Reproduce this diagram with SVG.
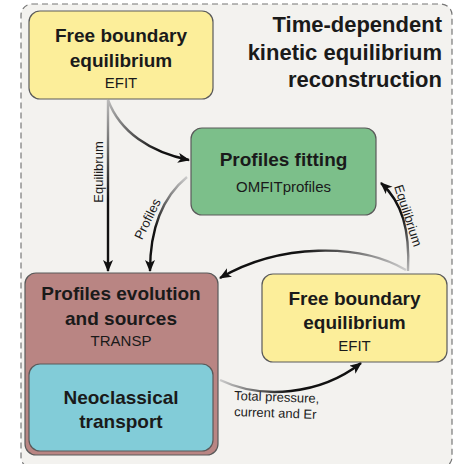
<svg xmlns="http://www.w3.org/2000/svg" width="458" height="464" viewBox="0 0 458 464">
<style>
.box{stroke:#5a5a5a;stroke-width:1.2}
.yellow{fill:#fcee9a}
.green{fill:#7cbf8a}
.brown{fill:#b98583}
.cyan{fill:#82ccd8}
.t{font-family:"Liberation Sans",Arial,sans-serif;font-weight:bold;font-size:19px;fill:#1a1a1a;text-anchor:middle}
.s{font-family:"Liberation Sans",Arial,sans-serif;font-size:15px;fill:#1a1a1a;text-anchor:middle}
.title{font-family:"Liberation Sans",Arial,sans-serif;font-weight:bold;font-size:22px;fill:#1a1a1a;text-anchor:end}
.lbl{font-family:"Liberation Sans",Arial,sans-serif;font-size:13px;fill:#1a1a1a}
.c{fill:none;stroke-width:2.4;marker-end:url(#ah)}
</style>
<defs>
<marker id="ah" markerUnits="userSpaceOnUse" markerWidth="14" markerHeight="12" refX="11" refY="5" orient="auto" viewBox="0 0 14 12">
<path d="M0,0 L12,5 L0,10 L3,5 Z" fill="#111"/>
</marker>
<linearGradient id="g1" gradientUnits="userSpaceOnUse" x1="108" y1="100" x2="108" y2="200"><stop offset="0" stop-color="#bbb"/><stop offset="1" stop-color="#111"/></linearGradient>
<linearGradient id="g2" gradientUnits="userSpaceOnUse" x1="108" y1="100" x2="160" y2="150"><stop offset="0" stop-color="#bbb"/><stop offset="1" stop-color="#111"/></linearGradient>
<linearGradient id="g3" gradientUnits="userSpaceOnUse" x1="187" y1="177" x2="155" y2="230"><stop offset="0" stop-color="#ccc"/><stop offset="1" stop-color="#111"/></linearGradient>
<linearGradient id="g4" gradientUnits="userSpaceOnUse" x1="408" y1="272" x2="400" y2="215"><stop offset="0" stop-color="#bbb"/><stop offset="1" stop-color="#111"/></linearGradient>
<linearGradient id="g5" gradientUnits="userSpaceOnUse" x1="405" y1="270" x2="300" y2="250"><stop offset="0" stop-color="#ccc"/><stop offset="1" stop-color="#111"/></linearGradient>
<linearGradient id="g6" gradientUnits="userSpaceOnUse" x1="220" y1="380" x2="290" y2="392"><stop offset="0" stop-color="#ccc"/><stop offset="1" stop-color="#111"/></linearGradient>
</defs>
<rect x="21" y="4" width="431" height="464" rx="11" fill="#f3f2ef" stroke="#777" stroke-width="1.2" stroke-dasharray="6 4"/>
<g id="title">
<text class="title" x="442" y="32">Time-dependent</text>
<text class="title" x="442" y="60">kinetic equilibrium</text>
<text class="title" x="442" y="87">reconstruction</text>
</g>
<g id="connectors">
<path class="c" stroke="url(#g1)" d="M108,100 L108,271"/>
<path class="c" stroke="url(#g2)" d="M108,100 C120,132 150,152 189,160"/>
<path class="c" stroke="url(#g3)" d="M187,177 C165,195 150,225 150,271"/>
<path class="c" stroke="url(#g4)" d="M408,271 C410,230 402,202 381,183"/>
<path class="c" stroke="url(#g5)" d="M406,270 C360,243 280,243 220,278"/>
<path class="c" stroke="url(#g6)" d="M220,380 C262,400 320,395 361,363"/>
<text class="lbl" transform="translate(103,172) rotate(-90)" text-anchor="middle">Equilibrum</text>
<text class="lbl" transform="translate(151.5,221) rotate(-64)" text-anchor="middle">Profiles</text>
<text class="lbl" transform="translate(404,217) rotate(72)" text-anchor="middle">Equilibrium</text>
<text class="lbl" transform="translate(234,400) rotate(2)">Total pressure,</text>
<text class="lbl" transform="translate(234,416) rotate(2)">current and Er</text>
</g>
<g id="efit-top">
<rect class="box yellow" x="29" y="11" width="184" height="88" rx="11"/>
<text class="t" x="121" y="42">Free boundary</text>
<text class="t" x="121" y="67">equilibrium</text>
<text class="s" x="121" y="88">EFIT</text>
</g>
<g id="profiles-fitting">
<rect class="box green" x="191" y="128" width="185" height="87" rx="11"/>
<text class="t" x="283.5" y="166">Profiles fitting</text>
<text class="s" x="283.5" y="192">OMFITprofiles</text>
</g>
<g id="transp">
<rect class="box brown" x="25" y="273" width="193" height="182" rx="11"/>
<text class="t" x="121" y="300">Profiles evolution</text>
<text class="t" x="121" y="325">and sources</text>
<text class="s" x="121" y="346">TRANSP</text>
</g>
<g id="neoclassical">
<rect class="box cyan" x="29" y="364" width="184" height="87" rx="11"/>
<text class="t" x="121" y="404">Neoclassical</text>
<text class="t" x="121" y="428">transport</text>
</g>
<g id="efit-right">
<rect class="box yellow" x="262" y="274" width="185" height="88" rx="11"/>
<text class="t" x="354.5" y="305">Free boundary</text>
<text class="t" x="354.5" y="329">equilibrium</text>
<text class="s" x="354.5" y="351">EFIT</text>
</g>
</svg>
